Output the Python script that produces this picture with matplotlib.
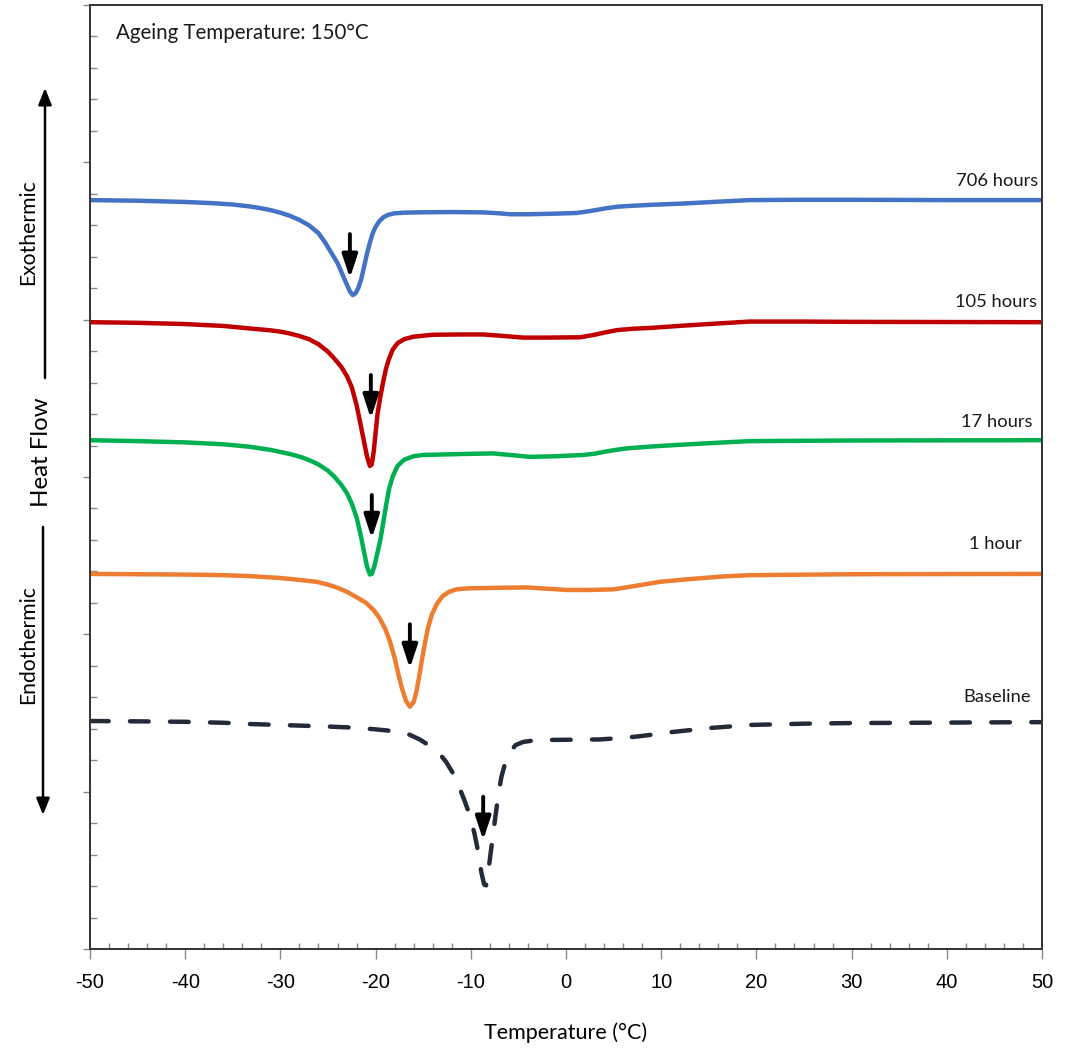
import matplotlib
matplotlib.use("Agg")
import matplotlib.pyplot as plt
from matplotlib.ticker import MultipleLocator

# ---------------- data ----------------
x_ticks = [-50, -40, -30, -20, -10, 0, 10, 20, 30, 40, 50]
x_tick_labels = ["-50", "-40", "-30", "-20", "-10", "0", "10", "20", "30", "40", "50"]

t_706 = [-50, -45, -40, -37, -35, -33, -32, -31, -30, -29, -28, -27, -26, -25.3, -24.6, -24.0, -23.5, -23.0,
         -22.7, -22.4, -22.1, -21.8, -21.5, -21.2, -20.9, -20.6, -20.3, -20.0, -19.6, -19.2, -18.7, -18.0,
         -17.0, -15.7, -12, -8.7, -7, -5.9, -4, -1, 1.1, 2.5, 4, 5.4, 7, 9, 12.3, 16, 19.3, 25, 30, 40, 50]
h_706 = [23.80, 23.78, 23.74, 23.70, 23.66, 23.59, 23.54, 23.48, 23.40, 23.30, 23.17, 23.00, 22.75, 22.45,
         22.10, 21.80, 21.45, 21.10, 20.90, 20.78, 20.84, 21.02, 21.30, 21.70, 22.10, 22.45, 22.75, 22.95,
         23.13, 23.25, 23.33, 23.38, 23.40, 23.41, 23.42, 23.41, 23.38, 23.35, 23.35, 23.37, 23.39, 23.45,
         23.53, 23.59, 23.62, 23.65, 23.69, 23.75, 23.80, 23.81, 23.81, 23.80, 23.80]

t_105 = [-50, -45, -40, -36, -33.2, -31, -30, -29, -28, -27, -26, -25, -24.3, -23.6, -23.0, -22.5, -22.0,
         -21.6, -21.2, -20.9, -20.6, -20.4, -20.2, -20.0, -19.8, -19.5, -19.2, -18.9, -18.6, -18.2, -17.7,
         -17.0, -16.0, -14, -11, -8.7, -6.5, -4.5, -2, 1.5, 3, 4.2, 5.4, 7, 9, 12.3, 16, 19.3, 25, 30, 50]
h_105 = [19.92, 19.90, 19.86, 19.80, 19.72, 19.66, 19.62, 19.56, 19.48, 19.38, 19.22, 18.98, 18.75, 18.50,
         18.20, 17.85, 17.29, 16.70, 16.10, 15.65, 15.35, 15.40, 15.80, 16.40, 17.00, 17.55, 18.03, 18.45,
         18.75, 19.05, 19.25, 19.38, 19.46, 19.52, 19.53, 19.53, 19.48, 19.43, 19.43, 19.44, 19.52, 19.60,
         19.67, 19.71, 19.74, 19.81, 19.88, 19.94, 19.94, 19.93, 19.92]

t_17 = [-50, -45, -40, -36, -33.2, -31, -29, -27.9, -27, -26, -25, -24.3, -23.6, -23.0, -22.5, -22.0,
        -21.6, -21.2, -20.9, -20.6, -20.4, -20.1, -19.8, -19.5, -19.2, -18.9, -18.6, -18.2, -17.7, -17.0,
        -16.0, -15.0, -11, -7.7, -5.5, -3.8, -1, 1.8, 3, 4, 5.2, 6.4, 9, 12.3, 16, 19.3, 30, 50]
h_17 = [16.17, 16.14, 16.10, 16.04, 15.96, 15.86, 15.73, 15.64, 15.54, 15.40, 15.20, 15.00, 14.75, 14.48,
        14.15, 13.72, 13.20, 12.60, 12.15, 11.90, 11.92, 12.20, 12.60, 13.00, 13.55, 14.10, 14.60, 15.02,
        15.35, 15.55, 15.66, 15.70, 15.73, 15.75, 15.69, 15.64, 15.66, 15.70, 15.74, 15.80, 15.86, 15.91,
        15.97, 16.03, 16.09, 16.14, 16.16, 16.17]

t_1 = [-50, -45, -40, -36, -33.2, -30, -28, -26.2, -25, -24, -23, -22, -21, -20.2, -19.6, -19.0, -18.5,
       -18.0, -17.6, -17.2, -16.8, -16.4, -16.0, -15.7, -15.4, -15.1, -14.8, -14.5, -14.1, -13.6, -13.0,
       -12.3, -11.5, -10.4, -7, -4.1, -2, 0.1, 2.5, 5.0, 6.3, 7.5, 8.7, 9.9, 12, 14, 16.5, 19.3, 30, 50]
h_1 = [11.92, 11.91, 11.90, 11.88, 11.85, 11.79, 11.73, 11.67, 11.58, 11.48, 11.35, 11.18, 11.00, 10.77,
       10.52, 10.18, 9.78, 9.25, 8.72, 8.25, 7.88, 7.70, 7.85, 8.20, 8.70, 9.25, 9.75, 10.20, 10.62, 10.95,
       11.20, 11.35, 11.43, 11.46, 11.48, 11.49, 11.45, 11.41, 11.41, 11.43, 11.49, 11.55, 11.61, 11.67,
       11.73, 11.78, 11.84, 11.88, 11.91, 11.92]

t_base = [-50, -45, -40, -36, -33.2, -28, -25, -22, -20, -18, -16.5, -15.3, -14.3, -13.4, -12.6, -11.9,
          -11.3, -10.7, -10.1, -9.6, -9.2, -8.9, -8.6, -8.4, -8.2, -8.0, -7.7, -7.4, -7.1, -6.8, -6.4, -5.9,
          -5.3, -4.5, -3.1, 3.6, 5.5, 7.4, 9.3, 11.3, 15, 19.3, 25, 30, 50]
h_base = [7.245, 7.235, 7.22, 7.19, 7.15, 7.10, 7.07, 7.03, 6.98, 6.92, 6.82, 6.65, 6.45, 6.25, 5.95, 5.60,
          5.20, 4.75, 4.25, 3.65, 3.05, 2.45, 2.05, 2.02, 2.35, 2.85, 3.55, 4.25, 4.90, 5.45, 5.90, 6.25,
          6.48, 6.58, 6.64, 6.66, 6.70, 6.75, 6.82, 6.90, 7.02, 7.12, 7.16, 7.18, 7.21]

series_labels = ["706 hours", "105 hours", "17 hours", "1 hour", "Baseline"]
label_pos_x = [49.6, 49.5, 49.0, 47.9, 48.8]
label_pos_y = [24.40, 20.56, 16.76, 12.86, 8.0]

# peak arrows: temperature, start level, tip level
arrow_t = [-22.7, -20.5, -20.4, -16.4, -8.7]
arrow_start = [22.72, 18.24, 14.43, 10.32, 4.84]
arrow_tip = [21.32, 16.86, 13.05, 8.92, 3.46]

colors = ["#4472C4", "#C00000", "#00B050", "#ED7D31", "#232B38"]

# ---------------- figure ----------------
W, H = 1071, 1048
fig = plt.figure(figsize=(W / 100, H / 100), dpi=100)
ax = fig.add_axes([90 / W, 1 - 949 / H, (1042 - 90) / W, (949 - 5) / H])

label_font = ["Lato", "DejaVu Sans"]

series = [(t_706, h_706), (t_105, h_105), (t_17, h_17), (t_1, h_1)]
for (t, h), c in zip(series, colors[:4]):
    ax.plot(t, h, color=c, lw=3.2, solid_capstyle="round", solid_joinstyle="round")

ax.plot(t_base, h_base, color=colors[4], lw=3.2, dashes=(4.2, 4.8),
        dash_capstyle="round", solid_joinstyle="round")

for lab, lx, ly in zip(series_labels, label_pos_x, label_pos_y):
    ax.text(lx, ly, lab, ha="right", va="center", fontsize=13.2, family=label_font, color="#1a1a1a")

for t, y0, y1 in zip(arrow_t, arrow_start, arrow_tip):
    ax.annotate("", xy=(t, y1), xytext=(t, y0),
                arrowprops=dict(arrowstyle="-|>,head_length=0.7,head_width=0.23",
                                mutation_scale=20, lw=2.8, color="black",
                                shrinkA=0, shrinkB=0))

ax.text(-47.3, 29.1, "Ageing Temperature: 150°C", ha="left", va="center",
        fontsize=14.8, family=label_font, color="#1a1a1a")

ax.set_xlim(-50, 50)
ax.set_ylim(0, 30)
ax.set_xticks(x_ticks)
ax.set_xticklabels(x_tick_labels, family=["Liberation Sans"], fontsize=14.5)
ax.xaxis.set_minor_locator(MultipleLocator(2))
ax.yaxis.set_major_locator(MultipleLocator(5))
ax.yaxis.set_minor_locator(MultipleLocator(1))
ax.set_yticklabels([])
ax.tick_params(axis="x", which="major", direction="out", length=7, width=1, color="#888888", pad=10)
ax.tick_params(axis="x", which="minor", direction="in", length=4, width=1, color="#888888")
ax.tick_params(axis="y", which="major", direction="out", length=5, width=1, color="#888888")
ax.tick_params(axis="y", which="minor", direction="in", length=5, width=1, color="#888888")
for sp in ax.spines.values():
    sp.set_color("#333333")
    sp.set_linewidth(1.4)

ax.set_xlabel("Temperature (°C)", fontsize=15.5, family=label_font, labelpad=22)

# left side annotations (figure pixels)
def fy(py):
    return 1 - py / H

fig.text(42 / W, fy(452), "Heat Flow", rotation=90, ha="center", va="center",
         fontsize=17.3, family=label_font)
fig.text(28 / W, fy(232), "Exothermic", rotation=90, ha="center", va="center",
         fontsize=15.2, family=label_font)
fig.text(28 / W, fy(645), "Endothermic", rotation=90, ha="center", va="center",
         fontsize=15.2, family=label_font)

fig.add_artist(matplotlib.patches.FancyArrowPatch(
    (45 / W, fy(378)), (45 / W, fy(88)), transform=fig.transFigure,
    arrowstyle="-|>,head_length=0.5,head_width=0.2", mutation_scale=20,
    lw=1.8, color="black", shrinkA=0, shrinkB=0))
fig.add_artist(matplotlib.patches.FancyArrowPatch(
    (43 / W, fy(527)), (43 / W, fy(815)), transform=fig.transFigure,
    arrowstyle="-|>,head_length=0.5,head_width=0.2", mutation_scale=20,
    lw=1.8, color="black", shrinkA=0, shrinkB=0))

fig.savefig("out.png", dpi=100, facecolor="white")
